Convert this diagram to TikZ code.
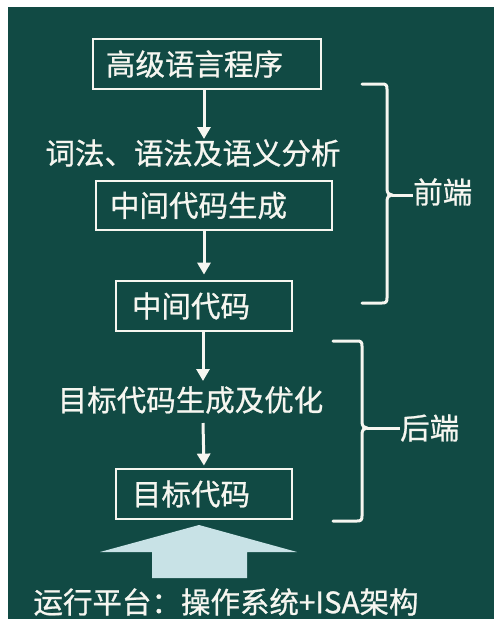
\documentclass[tikz,border=0pt]{standalone}
\usepackage{fontspec}
\newfontfamily\cjk{Noto Sans CJK SC}[FakeBold=0.8]
\usetikzlibrary{arrows.meta}
\definecolor{bg}{RGB}{17,74,68}
\definecolor{bigarrow}{RGB}{200,226,230}
\definecolor{fg}{RGB}{246,246,240}
\begin{document}
\begin{tikzpicture}[x=1pt,y=-1pt,
  txt/.style={text=fg,font=\cjk\fontsize{29.5}{32}\selectfont,inner sep=0pt},
  box/.style={txt,draw=fg,line width=2.8pt,minimum height=50pt,align=left},
  arr/.style={draw=fg,line width=3pt,-{Triangle[width=13pt,length=12pt]}},
  brace/.style={draw=fg,line width=3pt,line cap=round}]
\useasboundingbox (0,0) rectangle (494,619);
\fill[white] (0,0) rectangle (494,619);
\fill[bg] (8,7) rectangle (494,619);

% boxes
\node[box,text width=202pt,inner xsep=13pt] (box1) at (207,64) {高级语言程序};
\node[box,text width=208pt,inner xsep=14pt,minimum height=49pt] (box2) at (214,205.5) {中间代码生成};
\node[box,text width=144pt,inner xsep=16pt] (box3) at (204,306) {中间代码};
\node[box,text width=144pt,inner xsep=16pt] (box4) at (204,494) {目标代码};

% labels
\node[txt] (lbl1) at (193,153) {词法、语法及语义分析};
\node[txt] (lbl2) at (190.5,400) {目标代码生成及优化};
\node[txt,anchor=west] (front) at (413,192) {前端};
\node[txt,anchor=west] (back) at (400,428) {后端};
\node[txt] (platform) at (226,602) {运行平台：操作系统+ISA架构};

% arrow tips / starts
\coordinate (a1) at (204,139);
\coordinate (a3) at (203,381);
\coordinate (a4) at (203,423);

\draw[arr] (box1.south -| a1) -- (a1);
\draw[arr,shorten >=5pt] (box2.south -| box3.north) -- (box3.north);
\draw[arr] (box3.south -| a3) -- (a3);
\draw[arr,shorten >=2pt] (a4) -- (box4.north);

% big arrow
\fill[bigarrow] (152,578) -- (152,552) -- (100,552) -- (199,525) -- (297,552) -- (247,552) -- (247,578) -- cycle;

% braces
\draw[brace] (362,84) -- (382,84) .. controls (386,84) and (387,85) .. (387,89)
  -- (387,189) .. controls (387,193) and (389,195) .. (392,195)
  .. controls (389,195) and (387,197) .. (387,201)
  -- (387,298) .. controls (387,302) and (386,303) .. (382,303) -- (362,303);
\coordinate (b1) at (392,195);
\draw[brace,line cap=butt] (b1) -- (b1 -| front.west);

\draw[brace] (333,341) -- (357,341) .. controls (361,341) and (362,342) .. (362,346)
  -- (362,422) .. controls (362,426) and (364,428) .. (367,428)
  .. controls (364,428) and (362,430) .. (362,434)
  -- (362,516) .. controls (362,520) and (361,521) .. (357,521) -- (333,521);
\coordinate (b2) at (367,428);
\draw[brace,line cap=butt] (b2) -- (b2 -| back.west);
\end{tikzpicture}
\end{document}
